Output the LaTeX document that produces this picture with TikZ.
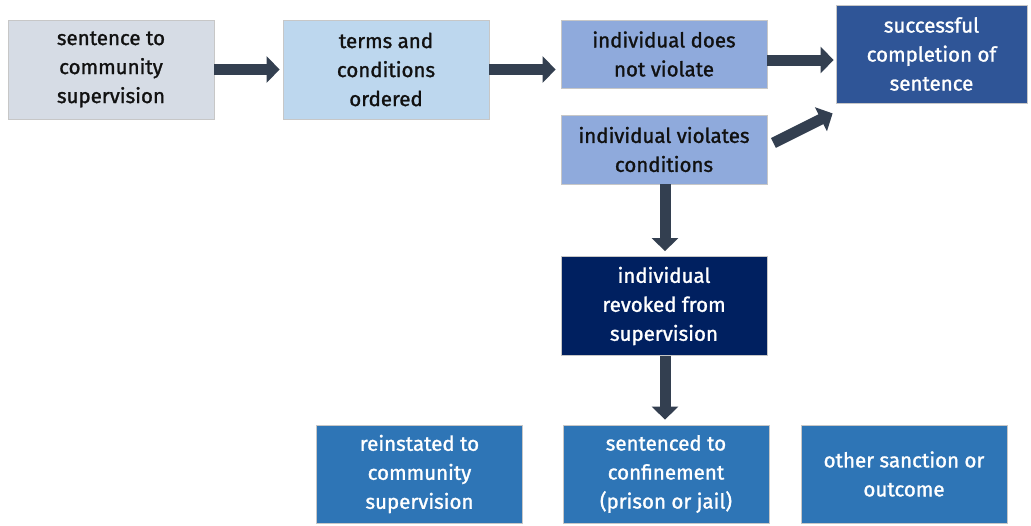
\documentclass[tikz,border=0pt]{standalone}
\usepackage{fontspec}
\setmainfont{Fira Sans}[BoldFont=Fira Sans, BoldFeatures={FakeBold=1.3}]
\usetikzlibrary{arrows.meta,calc}
\definecolor{cA}{HTML}{D6DCE5}
\definecolor{cB}{HTML}{BDD7EE}
\definecolor{cC}{HTML}{8FAADC}
\definecolor{cD}{HTML}{2F5597}
\definecolor{cE}{HTML}{002060}
\definecolor{cF}{HTML}{2E75B6}
\definecolor{arr}{HTML}{333F50}
\definecolor{txt}{HTML}{111111}
\begin{document}
\begin{tikzpicture}[x=1pt,y=1pt,
  box/.style={draw=black!22, line width=0.8pt, align=center, inner sep=0pt,
    minimum width=206pt, minimum height=99pt,
    font=\fontsize{20.5}{29}\selectfont\bfseries},
  lightbox/.style={box, text=txt},
  darkbox/.style={box, text=white},
  blk/.style={draw=arr, line width=11pt,
    -{Triangle[width=26pt,length=13pt]}}]
\useasboundingbox (0,0) rectangle (1031,-525);
\fill[white] (0,0) rectangle (1031,-525);
\node[lightbox, fill=cA] (b1) at (111,-69.5) {sentence to\\community\\supervision};
\node[lightbox, fill=cB] (b2) at (386,-69.5) {terms and\\conditions\\ordered};
\node[lightbox, fill=cC, minimum height=68pt] (b3) at (664,-54) {individual does\\not violate};
\node[lightbox, fill=cC, minimum height=69pt] (b4) at (664,-149.5) {individual violates\\conditions};
\node[darkbox, fill=cD, minimum width=191pt, minimum height=98pt] (b5) at (931.5,-54) {successful\\completion of\\sentence};
\node[darkbox, fill=cE] (b6) at (664,-306) {individual\\revoked from\\supervision};
\node[darkbox, fill=cF, minimum height=98pt] (b7) at (419.5,-474) {reinstated to\\community\\supervision};
\node[darkbox, fill=cF, minimum height=98pt] (b8) at (666,-474) {sentenced to\\confinement\\(prison or jail)};
\node[darkbox, fill=cF, minimum height=98pt] (b9) at (904,-474) {other sanction or\\outcome};
\draw[blk, shorten >=3pt] (b1.east) -- (b2.west);
\draw[blk, shorten >=5pt] (b2.east) -- (b2.east -| b3.west);
\coordinate (a3s) at ($(b3.east)+(0,-6)$);
\draw[blk, shorten >=2pt] (a3s) -- (a3s -| b5.west);
\coordinate (a4s) at ($(b4.east)+(6,6.5)$);
\coordinate (a4e) at ($(b5.south west)+(-3,-10)$);
\draw[blk] (a4s) -- (a4e);
\coordinate (a5s) at ($(b4.south)+(1,0)$);
\draw[blk, shorten >=5pt] (a5s) -- (a5s |- b6.north);
\coordinate (a6s) at ($(b6.south)+(1,0)$);
\draw[blk, shorten >=5pt] (a6s) -- (a6s |- b8.north);
\end{tikzpicture}
\end{document}
